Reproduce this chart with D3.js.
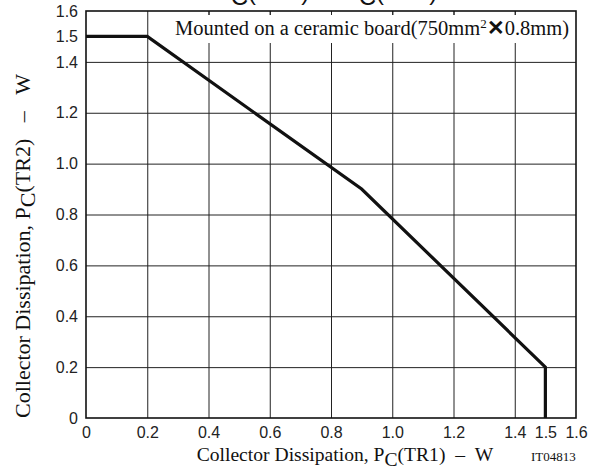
<!DOCTYPE html>
<html>
<head>
<meta charset="utf-8">
<script src="https://cdn.jsdelivr.net/npm/d3@7"></script>
<style>
  html, body { margin: 0; padding: 0; background: #fff; }
  svg { display: block; }
</style>
</head>
<body>
<svg id="chart" width="601" height="472"></svg>
<script>
// Allowable dissipation curve: PC(TR1) vs PC(TR2), in watts
const curveTR1 = [0, 0.2, 0.9, 1.5, 1.5];
const curveTR2 = [1.5, 1.5, 0.9, 0.2, 0];

// Axis tick values and grid positions
const xTickValues = [0, 0.2, 0.4, 0.6, 0.8, 1.0, 1.2, 1.4, 1.5, 1.6];
const yTickValues = [0, 0.2, 0.4, 0.6, 0.8, 1.0, 1.2, 1.4, 1.5, 1.6];
const gridValues = [0.2, 0.4, 0.6, 0.8, 1.0, 1.2, 1.4];

const fmt = v => (v === 0 ? "0" : v.toFixed(1));

const margin = { left: 86, right: 25, top: 11, bottom: 54 };
const width = 601, height = 472;
const plotW = width - margin.left - margin.right;
const plotH = height - margin.top - margin.bottom;

const svg = d3.select("#chart");

const x = d3.scaleLinear().domain([0, 1.6]).range([margin.left, margin.left + plotW]);
const y = d3.scaleLinear().domain([0, 1.6]).range([margin.top + plotH, margin.top]);

const sans = "'Liberation Sans', Arial, Helvetica, sans-serif";
const serif = "'Liberation Serif', 'Times New Roman', Times, serif";
const nb = n => "\u00a0".repeat(n);

// Heading above the frame (only its lower edge falls inside the page)
const title = svg.append("text")
  .attr("x", 326)
  .attr("y", 0)
  .attr("text-anchor", "middle")
  .attr("font-family", sans)
  .attr("font-size", 24)
  .attr("fill", "#111");
title.append("tspan").text("P");
title.append("tspan").attr("dy", 5).text("C");
title.append("tspan").attr("dy", -5).text("(TR1)" + nb(2) + "\u2013" + nb(1) + "P");
title.append("tspan").attr("dy", 5).text("C");
title.append("tspan").attr("dy", -5).text("(TR2)");

// Vertical grid lines
svg.append("g")
  .attr("transform", `translate(0,${margin.top + plotH})`)
  .call(d3.axisBottom(x).tickValues(gridValues).tickSize(-plotH).tickFormat(""))
  .call(g => g.select(".domain").remove())
  .call(g => g.selectAll(".tick line").attr("stroke", "#222").attr("stroke-width", 1));

// Horizontal grid lines
svg.append("g")
  .attr("transform", `translate(${margin.left},0)`)
  .call(d3.axisLeft(y).tickValues(gridValues).tickSize(-plotW).tickFormat(""))
  .call(g => g.select(".domain").remove())
  .call(g => g.selectAll(".tick line").attr("stroke", "#222").attr("stroke-width", 1));

// Note box (masks the grid behind the mounting note)
svg.append("rect")
  .attr("x", 170)
  .attr("y", 15)
  .attr("width", x(1.6) - 170 - 1)
  .attr("height", 28)
  .attr("fill", "#fff");

const note = svg.append("text")
  .attr("x", 175)
  .attr("y", 35)
  .attr("font-family", serif)
  .attr("font-size", 20.5)
  .attr("fill", "#111");
note.append("tspan").text("Mounted on a ceramic board(750mm");
note.append("tspan").attr("font-size", 13).attr("dy", -7).text("2");
note.append("tspan").attr("dy", 7).attr("font-family", sans).attr("font-weight", "bold").text("\u2715");
note.append("tspan").text("0.8mm)");

// Short ticks along the top edge where the note box covers the grid
svg.append("g")
  .attr("transform", `translate(0,${margin.top})`)
  .call(d3.axisBottom(x).tickValues(gridValues.filter(v => x(v) > 170)).tickSize(4).tickFormat(""))
  .call(g => g.select(".domain").remove())
  .call(g => g.selectAll(".tick line").attr("stroke", "#222").attr("stroke-width", 1));

// Frame
svg.append("rect")
  .attr("x", margin.left)
  .attr("y", margin.top)
  .attr("width", plotW)
  .attr("height", plotH)
  .attr("fill", "none")
  .attr("stroke", "#111")
  .attr("stroke-width", 1.6);

// Dissipation curve
const pts = curveTR1.map((v, i) => [v, curveTR2[i]]);
svg.append("path")
  .datum(pts)
  .attr("fill", "none")
  .attr("stroke", "#111")
  .attr("stroke-width", 3.2)
  .attr("stroke-linejoin", "miter")
  .attr("d", d3.line().x(d => x(d[0])).y(d => y(d[1])));

// Tick labels
svg.append("g")
  .attr("transform", `translate(0,${margin.top + plotH})`)
  .call(d3.axisBottom(x).tickValues(xTickValues).tickSize(0).tickPadding(9).tickFormat(fmt))
  .call(g => g.select(".domain").remove())
  .call(g => g.selectAll("text").attr("font-family", sans).attr("font-size", 16).attr("fill", "#222"));

svg.append("g")
  .attr("transform", `translate(${margin.left},0)`)
  .call(d3.axisLeft(y).tickValues(yTickValues).tickSize(0).tickPadding(8).tickFormat(fmt))
  .call(g => g.select(".domain").remove())
  .call(g => g.selectAll("text").attr("font-family", sans).attr("font-size", 16).attr("fill", "#222"));

// Axis titles
const xTitle = svg.append("text")
  .attr("x", 345)
  .attr("y", 461)
  .attr("text-anchor", "middle")
  .attr("font-family", serif)
  .attr("font-size", 19.6)
  .attr("fill", "#111");
xTitle.append("tspan").text("Collector Dissipation, P");
xTitle.append("tspan").attr("dy", 5).text("C");
xTitle.append("tspan").attr("dy", -5).text("(TR1)" + nb(2) + "\u2013" + nb(2) + "W");

svg.append("text")
  .attr("x", 531)
  .attr("y", 461)
  .attr("font-family", serif)
  .attr("font-size", 13)
  .attr("fill", "#111")
  .text("IT04813");

const yTitle = svg.append("text")
  .attr("transform", "translate(30,246) rotate(-90)")
  .attr("text-anchor", "middle")
  .attr("font-family", serif)
  .attr("font-size", 22)
  .attr("fill", "#111");
yTitle.append("tspan").text("Collector Dissipation, P");
yTitle.append("tspan").attr("dy", 5).text("C");
yTitle.append("tspan").attr("dy", -5).text("(TR2)" + nb(3) + "\u2013" + nb(3) + "W");
</script>
</body>
</html>
